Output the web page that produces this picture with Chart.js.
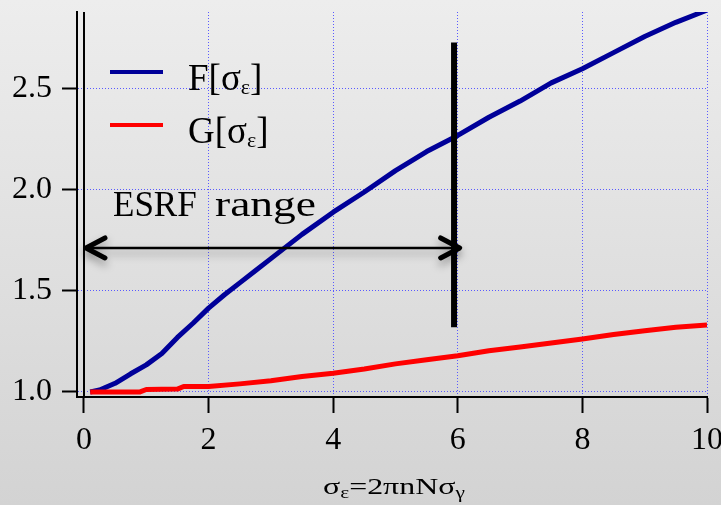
<!DOCTYPE html>
<html>
<head>
<meta charset="utf-8">
<script src="https://cdn.jsdelivr.net/npm/chart.js@4.4.0/dist/chart.umd.min.js"></script>
<style>
    html, body { margin: 0; padding: 0; }
    body { width: 721px; height: 505px; overflow: hidden; background: linear-gradient(#ededed, #d3d3d3); }
    canvas { display: block; }
</style>
</head>
<body>
<canvas id="formFactorChart" width="721" height="505"></canvas>
<script>
// F[sigma_eps] samples
const sigmaF = [0.1, 0.25, 0.5, 0.75, 1, 1.25, 1.5, 1.75, 2, 2.25, 2.5, 2.75, 3, 3.5, 4, 4.5, 5, 5.5, 6, 6.5, 7, 7.5, 8, 8.5, 9, 9.5, 10];
const valuesF = [1.0, 1.01, 1.043, 1.09, 1.134, 1.19, 1.27, 1.34, 1.415, 1.48, 1.54, 1.6, 1.66, 1.78, 1.89, 1.99, 2.096, 2.19, 2.27, 2.36, 2.44, 2.53, 2.6, 2.68, 2.76, 2.83, 2.89];

// G[sigma_eps] samples
const sigmaG = [0.1, 0.9, 1.0, 1.5, 1.6, 2, 2.5, 3, 3.5, 4, 4.5, 5, 5.5, 6, 6.5, 7, 7.5, 8, 8.5, 9, 9.5, 10];
const valuesG = [1.0, 1.0, 1.012, 1.014, 1.027, 1.027, 1.04, 1.055, 1.076, 1.093, 1.114, 1.139, 1.159, 1.179, 1.204, 1.222, 1.242, 1.262, 1.284, 1.303, 1.32, 1.332];

const xTicks = [0, 2, 4, 6, 8, 10];
const yTicks = [1.0, 1.5, 2.0, 2.5];

// ESRF range marker: arrow from 0 to the bar
const esrfFrom = 0;
const esrfTo = 6.03;
const esrfArrowY = 1.713;
const esrfBarX = 5.94;
const esrfBar = [1.32, 2.73];

const serif = "'Liberation Serif', 'Times New Roman', serif";
const gridBlue = '#5a5aff';

// draws a run of text pieces (sub/superscripts) with optional horizontal stretch
function drawRich(ctx, parts, x, y, sx) {
    ctx.save();
    ctx.translate(x, y);
    ctx.scale(sx, 1);
    ctx.fillStyle = '#000';
    ctx.textBaseline = 'alphabetic';
    ctx.textAlign = 'left';
    let cx = 0;
    parts.forEach(p => {
        ctx.font = p.size + 'px ' + serif;
        ctx.fillText(p.t, cx, p.dy || 0);
        cx += ctx.measureText(p.t).width;
    });
    ctx.restore();
}

function arrowHead(ctx, tipX, tipY, dir) {
    ctx.beginPath();
    ctx.moveTo(tipX - dir * 19, tipY - 10);
    ctx.lineTo(tipX, tipY);
    ctx.lineTo(tipX - dir * 19, tipY + 10);
    ctx.stroke();
}

const esrfMarks = {
    id: 'esrfMarks',
    afterDatasetsDraw(chart) {
        const { ctx, chartArea, scales: { x, y } } = chart;

        // left edge of the range
        const x0 = Math.round(x.getPixelForValue(esrfFrom));
        ctx.save();
        ctx.strokeStyle = '#000';
        ctx.lineWidth = 2;
        ctx.beginPath();
        ctx.moveTo(x0, chartArea.top);
        ctx.lineTo(x0, chartArea.bottom);
        ctx.stroke();

        // thick bar at the upper limit
        const xb = x.getPixelForValue(esrfBarX);
        ctx.lineWidth = 6;
        ctx.beginPath();
        ctx.moveTo(xb, y.getPixelForValue(esrfBar[0]));
        ctx.lineTo(xb, y.getPixelForValue(esrfBar[1]));
        ctx.stroke();

        // double arrow, with a soft drop shadow
        const ay = y.getPixelForValue(esrfArrowY);
        const xa = x.getPixelForValue(esrfFrom);
        const xe = x.getPixelForValue(esrfTo);
        ctx.shadowColor = 'rgba(0,0,0,0.35)';
        ctx.shadowBlur = 8;
        ctx.shadowOffsetY = 5;
        ctx.lineWidth = 2.5;
        ctx.beginPath();
        ctx.moveTo(xa + 2, ay);
        ctx.lineTo(xe - 2, ay);
        ctx.stroke();
        ctx.lineWidth = 5;
        ctx.lineCap = 'round';
        ctx.lineJoin = 'round';
        arrowHead(ctx, xa + 2, ay, -1);
        arrowHead(ctx, xe, ay, 1);
        ctx.restore();

        // "ESRF range" label
        drawRich(ctx, [{ t: 'ESRF', size: 35 }], chartArea.left + 36, 216, 1.0);
        drawRich(ctx, [{ t: 'range', size: 35 }], chartArea.left + 138, 216, 1.3);

        // legend
        const lx = chartArea.left + 33;
        const rows = [
            { color: '#000099', name: 'F', ly: 72 },
            { color: '#ff0000', name: 'G', ly: 125 }
        ];
        rows.forEach(r => {
            ctx.save();
            ctx.strokeStyle = r.color;
            ctx.lineWidth = 4;
            ctx.beginPath();
            ctx.moveTo(lx, r.ly);
            ctx.lineTo(lx + 53, r.ly);
            ctx.stroke();
            ctx.restore();
            drawRich(ctx, [
                { t: r.name + '[', size: 37 },
                { t: 'σ', size: 37 },
                { t: 'ε', size: 22, dy: 4 },
                { t: ']', size: 37 }
            ], lx + 78, r.ly + 18, 1.0);
        });
    },
    afterDraw(chart) {
        const { ctx } = chart;
        drawRich(ctx, [
            { t: 'σ', size: 24 },
            { t: 'ε', size: 16, dy: 4 },
            { t: '=2πnN', size: 24 },
            { t: 'σ', size: 24 },
            { t: 'γ', size: 16, dy: 4 }
        ], 323, 494, 1.33);
    }
};

const ctx = document.getElementById('formFactorChart');
new Chart(ctx, {
    type: 'line',
    data: {
        datasets: [{
            label: 'F',
            data: sigmaF.map((s, i) => ({ x: s, y: valuesF[i] })),
            borderColor: '#000099',
            borderWidth: 5,
            pointRadius: 0,
            borderJoinStyle: 'round',
            order: 1
        }, {
            label: 'G',
            data: sigmaG.map((s, i) => ({ x: s, y: valuesG[i] })),
            borderColor: '#ff0000',
            borderWidth: 5,
            pointRadius: 0,
            borderJoinStyle: 'round',
            order: 0
        }]
    },
    options: {
        responsive: false,
        animation: false,
        devicePixelRatio: 1,
        layout: { padding: { top: 12, right: 14, left: 0, bottom: 0 } },
        plugins: {
            legend: { display: false },
            tooltip: { enabled: false }
        },
        scales: {
            x: {
                type: 'linear',
                min: -0.112,
                max: 10,
                afterBuildTicks: s => { s.ticks = xTicks.map(v => ({ value: v })); },
                afterFit: s => {
                    s.height = 108;
                    s.paddingLeft = 0;
                    s.paddingRight = 0;
                },
                grid: { color: gridBlue, lineWidth: 1, tickColor: '#000', tickWidth: 2, tickLength: 16 },
                border: { color: '#000', width: 2, dash: [1, 2] },
                ticks: {
                    color: '#000',
                    font: { family: serif, size: 32 },
                    padding: 8,
                    maxRotation: 0,
                    callback: v => String(v)
                }
            },
            y: {
                type: 'linear',
                min: 0.975,
                max: 2.881,
                afterBuildTicks: s => { s.ticks = yTicks.map(v => ({ value: v })); },
                afterFit: s => {
                    s.width = 77;
                    s.paddingTop = 0;
                    s.paddingBottom = 0;
                },
                grid: { color: gridBlue, lineWidth: 1, tickColor: '#000', tickWidth: 2, tickLength: 15 },
                border: { color: '#000', width: 2, dash: [1, 2] },
                ticks: {
                    color: '#000',
                    font: { family: serif, size: 32 },
                    padding: 10,
                    callback: v => v.toFixed(1)
                }
            }
        }
    },
    plugins: [esrfMarks]
});
</script>
</body>
</html>
